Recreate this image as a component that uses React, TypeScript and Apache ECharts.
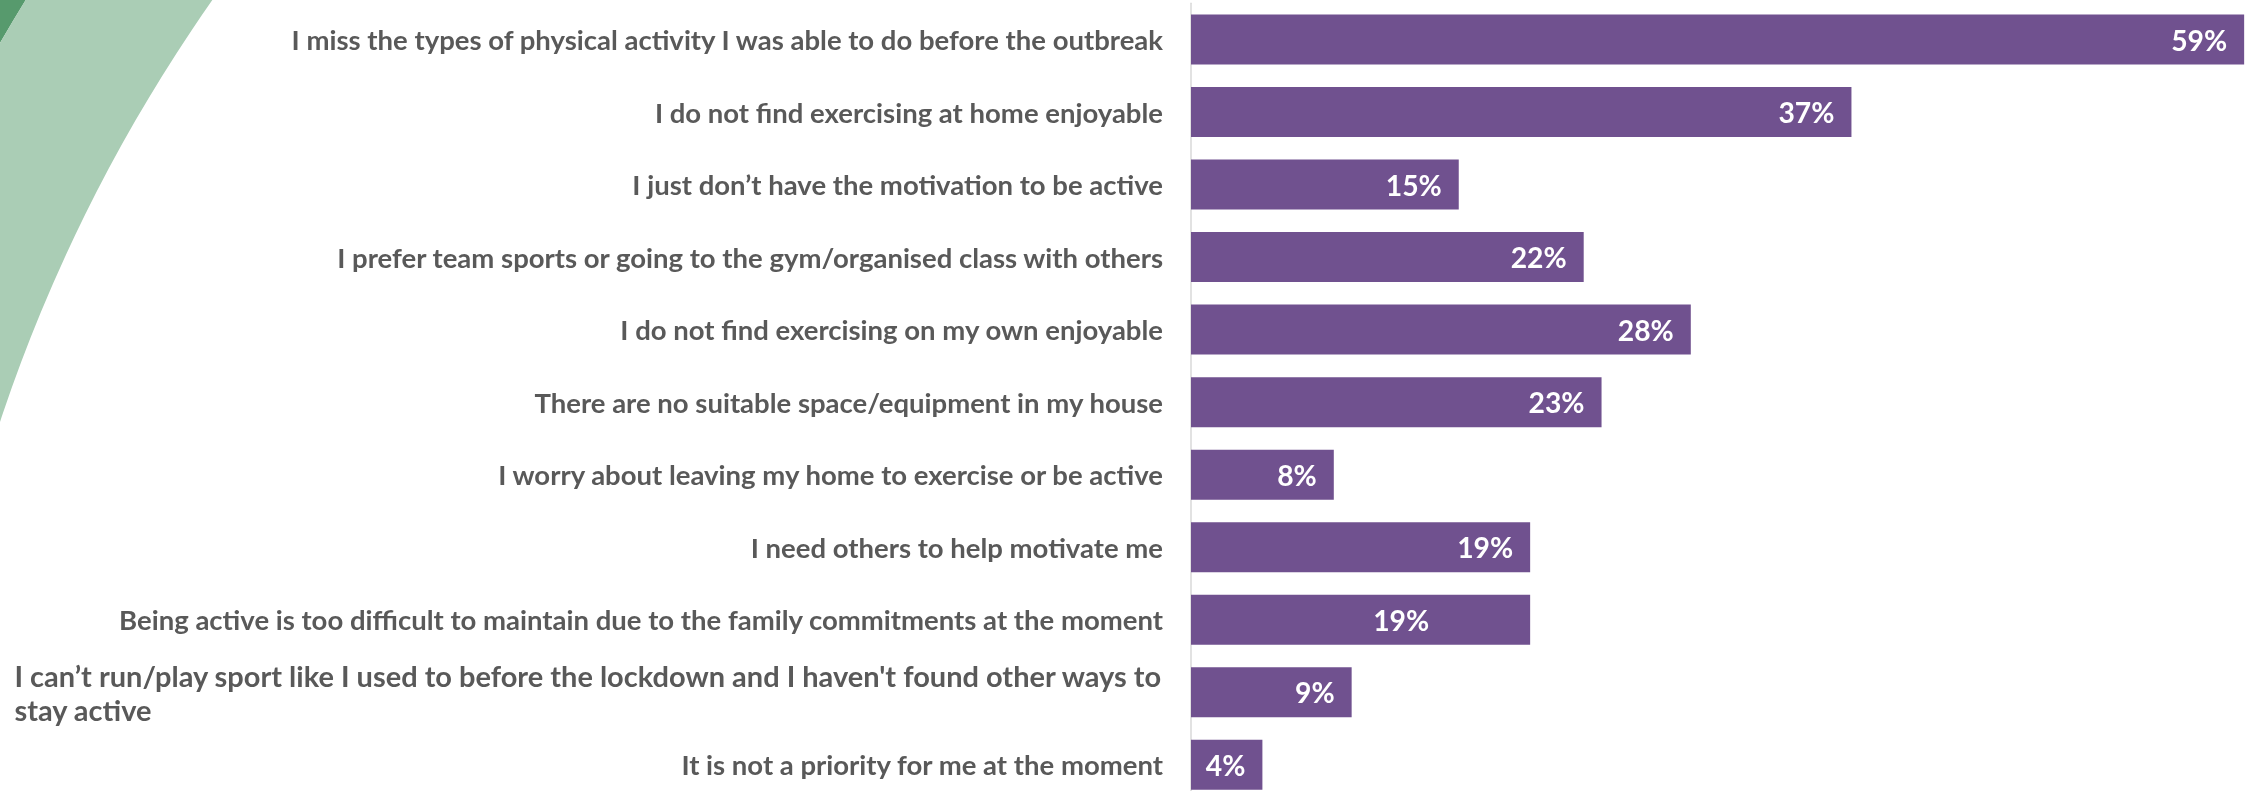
import React, { useEffect, useRef } from "react";
import * as echarts from "echarts";

const categories: string[] = [
  "I miss the types of physical activity I was able to do before the outbreak",
  "I do not find exercising at home enjoyable",
  "I just don’t have the motivation to be active",
  "I prefer team sports or going to the gym/organised class with others",
  "I do not find exercising on my own enjoyable",
  "There are no suitable space/equipment in my house",
  "I worry about leaving my home to exercise or be active",
  "I need others to help motivate me",
  "Being active is too difficult to maintain due to the family commitments at the moment",
  "I can’t run/play sport like I used to before the lockdown and I haven't found other ways to\nstay active",
  "It is not a priority for me at the moment",
];

const values: number[] = [59, 37, 15, 22, 28, 23, 8, 19, 19, 9, 4];

const SHIFTED_LABEL_INDEX = 8;

export default function App() {
  const ref = useRef<HTMLDivElement>(null);

  useEffect(() => {
    if (!ref.current) return;
    const chart = echarts.init(ref.current, undefined, { renderer: "svg" });

    const FONT = "Lato";
    const ctx = document.createElement("canvas").getContext("2d")!;
    const measure = (t: string, size: number) => {
      ctx.font = `bold ${size}px ${FONT}`;
      return ctx.measureText(t).width;
    };
    // fit label size to the widths of the reference labels (rows 1 and 9)
    const catSize = Math.min(
      30,
      (100 * (870 + 1048)) / (measure(categories[0], 100) + measure(categories[8], 100))
    );
    const valSize = Math.min(32, (100 * 56) / measure("59%", 100));
    const wrapped = categories.find((c) => c.includes("\n")) || "";
    const firstLine = wrapped.split("\n")[0];
    const wrapTarget = 1149;
    const wrapSize = Math.min(catSize * 1.1, (catSize * wrapTarget) / measure(firstLine, catSize));
    const wrapWidth = measure(firstLine, wrapSize);

    const labelColor = "#595959";

    chart.setOption({
      animation: false,
      graphic: [
        {
          type: "ring",
          z: -10,
          silent: true,
          shape: { cx: 1545, cy: 935, r0: 1784, r: 2000 },
          style: { fill: "#579a6d" },
        },
        {
          type: "ring",
          z: -10,
          silent: true,
          shape: { cx: 1545, cy: 935, r0: 1628, r: 1784 },
          style: { fill: "#aacdb5" },
        },
      ],
      grid: { left: 1191, right: 0, top: 3.25, bottom: 0 },
      xAxis: {
        type: "value",
        min: 0,
        max: 60,
        show: false,
        splitLine: { show: false },
      },
      yAxis: {
        type: "category",
        inverse: true,
        data: categories,
        axisTick: { show: false },
        axisLine: { show: true, lineStyle: { color: "#d9d9d9", width: 1.5 } },
        axisLabel: {
          interval: 0,
          margin: 28,
          color: labelColor,
          fontWeight: "bold",
          fontFamily: FONT,
          fontSize: catSize,
          lineHeight: 34,
          align: "right",
          formatter: (v: string) => {
            if (!v.includes("\n")) return v;
            return v
              .split("\n")
              .map((line) => `{w|${line}}`)
              .join("\n");
          },
          rich: {
            w: {
              width: wrapWidth,
              align: "left",
              color: labelColor,
              fontWeight: "bold",
              fontFamily: FONT,
              fontSize: wrapSize,
              lineHeight: 34,
            },
          },
        },
      },
      series: [
        {
          type: "bar",
          barWidth: 50,
          data: values.map((v, i) =>
            i === SHIFTED_LABEL_INDEX
              ? { value: v, label: { offset: [-84, 0] } }
              : { value: v }
          ),
          itemStyle: { color: "#70518f" },
          label: {
            show: true,
            position: "insideRight",
            distance: 17,
            formatter: "{c}%",
            color: "#ffffff",
            fontWeight: "bold",
            fontFamily: FONT,
            fontSize: valSize,
          },
        },
      ],
    });

    return () => chart.dispose();
  }, []);

  return (
    <div
      ref={ref}
      style={{ position: "fixed", left: 0, top: 0, width: 2262, height: 801 }}
    />
  );
}
